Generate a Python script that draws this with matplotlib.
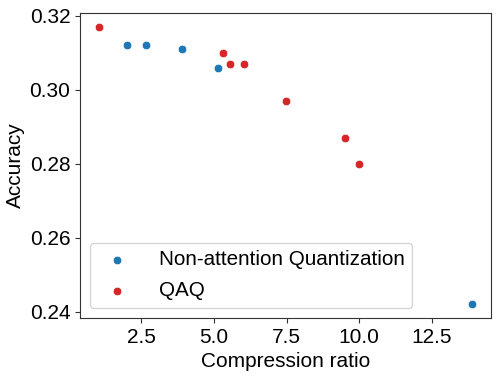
import matplotlib
matplotlib.use("Agg")
import matplotlib.pyplot as plt

plt.rcParams['font.family'] = ['Liberation Sans', 'DejaVu Sans']

na_x = [2.0, 2.65, 3.9, 5.12, 13.89]
na_y = [0.312, 0.312, 0.311, 0.306, 0.242]
qaq_x = [1.03, 5.31, 5.54, 6.04, 7.48, 9.51, 9.99]
qaq_y = [0.317, 0.310, 0.307, 0.307, 0.297, 0.287, 0.280]

fig = plt.figure(figsize=(4.99, 3.78), dpi=100)
ax = fig.add_axes([80/499, 1-318/378, 411/499, 305/378])
ax.scatter(na_x, na_y, s=38, color='#1f77b4', edgecolor='white', linewidth=0.5,
           label='Non-attention Quantization')
ax.scatter(qaq_x, qaq_y, s=38, color='#d62728', edgecolor='white', linewidth=0.5,
           label='QAQ')
for sp in ax.spines.values():
    sp.set_color('#333333')
ax.tick_params(colors='#333333', labelcolor='black')
ax.set_xticks([2.5, 5.0, 7.5, 10.0, 12.5])
ax.set_yticks([0.24, 0.26, 0.28, 0.30, 0.32])
ax.tick_params(labelsize=15)
ax.set_xlabel('Compression ratio', fontsize=15, labelpad=4)
ax.set_ylabel('Accuracy', fontsize=15, labelpad=3)
ax.legend(loc='lower left', fontsize=14.9, handletextpad=1.05, borderpad=0.35,
          handlelength=1.9, labelspacing=0.6)
fig.savefig('out.png', dpi=100)
